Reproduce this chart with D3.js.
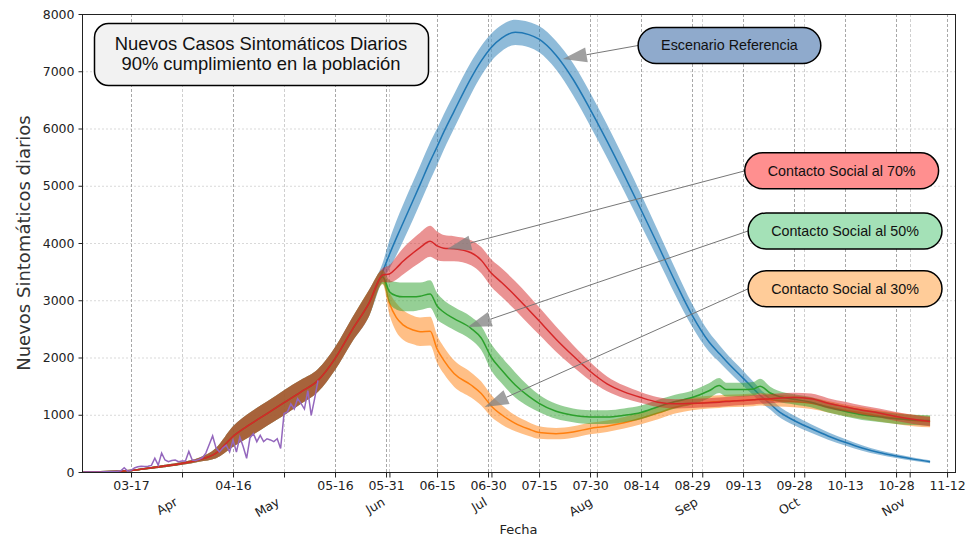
<!DOCTYPE html>
<html><head><meta charset="utf-8">
<script src="https://cdn.jsdelivr.net/npm/d3@7"></script>
<style>body{margin:0;background:#fff}svg{display:block}</style>
</head><body><svg id="c" width="965" height="536"></svg>
<script>
// ---------- data ----------
const earlyDates  = ["03-03","03-08","03-13","03-17","03-22","03-27","04-01","04-06","04-11","04-16","04-21","04-26","05-01","05-06","05-11","05-16","05-21","05-26"];
const earlyCases  = [0,3,12,25,65,105,150,215,330,620,830,1020,1210,1400,1600,1980,2480,2950];
const earlySpread = [0,2,5,10,15,20,25,35,90,180,210,210,220,210,200,200,210,230];

const lateDates = ["05-30","06-01","06-03","06-05","06-08","06-10","06-13","06-15","06-17","06-20",
  "06-25","06-28","07-01","07-04","07-08","07-12","07-15","07-20","07-25","07-30",
  "08-04","08-09","08-14","08-19","08-24","08-29","09-03","09-06","09-08","09-13",
  "09-16","09-18","09-21","09-23","09-28","10-03","10-08","10-13","10-18","10-23",
  "10-28","11-02","11-07"];

const refCases  = [3500,3800,4080,4350,4750,5020,5430,5680,5940,6300,6880,7180,7420,7580,7680,7640,7560,7280,6860,6340,5780,5190,4580,3960,3330,2740,2270,2070,1940,1640,1460,1340,1190,1080,900,760,630,520,420,340,280,225,180];
const refSpread = [150,250,300,320,330,330,330,320,310,300,280,260,240,230,220,220,230,250,280,290,290,280,270,250,230,200,170,150,140,130,120,110,100,95,85,75,65,55,48,40,35,30,25];

const c70Cases  = [3440,3460,3560,3680,3830,3920,4030,3950,3910,3900,3830,3700,3470,3310,3080,2830,2640,2320,2030,1760,1540,1400,1300,1220,1190,1200,1210,1220,1230,1250,1260,1270,1280,1290,1300,1280,1200,1140,1080,1030,970,920,880];
const c70Spread = [120,150,200,230,250,260,270,250,230,220,220,230,240,250,250,250,240,220,190,160,130,110,95,85,80,80,80,80,80,80,80,80,80,80,85,90,90,85,80,80,80,80,80];

const c50Cases  = [3410,3150,3080,3060,3060,3070,3110,2900,2790,2680,2510,2340,2000,1780,1520,1320,1200,1060,990,960,960,990,1040,1140,1230,1300,1420,1510,1440,1440,1450,1500,1380,1330,1270,1220,1130,1060,1000,965,930,910,900];
const c50Spread = [120,200,240,250,250,240,240,230,210,200,200,210,230,230,220,180,150,130,120,120,120,120,120,120,120,120,130,130,120,120,120,130,110,100,90,90,90,90,90,90,90,90,90];

const c30Cases  = [3400,2950,2700,2570,2480,2450,2460,2150,1950,1720,1520,1370,1150,1000,850,750,690,670,700,760,800,860,940,1030,1130,1190,1220,1230,1240,1250,1260,1270,1260,1250,1230,1200,1140,1080,1030,980,940,900,880];
const c30Spread = [120,200,250,260,250,250,250,240,235,230,220,210,190,170,140,120,110,100,100,100,100,100,105,110,110,110,110,110,110,110,110,110,110,105,100,100,100,100,100,100,100,100,100];

// observed daily cases starting 03-03
const obsStart = "03-03";
const obsCases = [0,0,0,0,1,2,3,5,8,10,12,
  20,75,15,30,70,90,100,95,100,115,240,120,330,210,180,200,210,180,
  190,190,360,210,200,220,250,330,480,630,420,350,420,470,350,560,350,610,440,240,600,670,530,640,530,580,560,530,580,410,
  1020,1050,1190,1100,1280,1200,1100,1420,990,1280,1600];

const dayTicks   = ["03-17","04-16","05-16","05-31","06-15","06-30","07-15","07-30","08-14","08-29","09-13","09-28","10-13","10-28","11-12"];
const monthTicks = ["04-01","05-01","06-01","07-01","08-01","09-01","10-01","11-01"];
const monthLabels= ["Apr","May","Jun","Jul","Aug","Sep","Oct","Nov"];
const yTicks = [0,1000,2000,3000,4000,5000,6000,7000,8000];

const titleLines = ["Nuevos Casos Sintomáticos Diarios","90% cumplimiento en la población"];
const annLabels  = ["Escenario Referencia","Contacto Social al 70%","Contacto Social al 50%","Contacto Social al 30%"];
const annFills   = ["#8faacc","#ff8f8f","#a4e1b7","#ffcc99"];
const annBoxDate = ["09-09","10-12","10-13","10-13"];
const annBoxVal  = [7450,5260,4210,3200];
const annTipDate = ["07-22","06-18","06-24","06-29"];
const annTipVal  = [7214,3895,2533,1135];

const seriesColors = {ref:"#1f77b4", c30:"#ff7f0e", c50:"#2ca02c", c70:"#d62728", obs:"#9467bd"};

// ---------- chart ----------
const P = s => d3.utcParse("%Y-%m-%d")("2020-" + s);
const svg = d3.select("#c");
const L = 82, R = 955, T = 14, B = 472;
const x = d3.scaleUtc().domain([Date.UTC(2020,2,2,14), Date.UTC(2020,10,14,8)]).range([L, R]);
const y = d3.scaleLinear().domain([0, 8000]).range([B, T]);
const FONT = "'DejaVu Sans', sans-serif";
const AFONT = "'Liberation Sans', Arial, sans-serif";

svg.append("rect").attr("width",965).attr("height",536).attr("fill","#fff");
svg.append("defs").append("clipPath").attr("id","clip")
  .append("rect").attr("x",L).attr("y",T).attr("width",R-L).attr("height",B-T);

// grid
const g = svg.append("g");
g.selectAll(".hg").data(yTicks).join("line")
  .attr("x1",L).attr("x2",R).attr("y1",d=>y(d)+0.5).attr("y2",d=>y(d)+0.5)
  .attr("stroke","#d9d9d9").attr("stroke-width",1).attr("stroke-dasharray","2,2");
g.selectAll(".mg").data(monthTicks).join("line")
  .attr("x1",d=>Math.round(x(P(d)))+0.5).attr("x2",d=>Math.round(x(P(d)))+0.5).attr("y1",T).attr("y2",B)
  .attr("stroke","#cfcfcf").attr("stroke-width",1).attr("stroke-dasharray","3,2");
g.selectAll(".dg").data(dayTicks).join("line")
  .attr("x1",d=>Math.round(x(P(d)))+0.5).attr("x2",d=>Math.round(x(P(d)))+0.5).attr("y1",T).attr("y2",B)
  .attr("stroke","#a8a8a8").attr("stroke-width",1).attr("stroke-dasharray","3,2");

// series
function build(cases, spread){
  const dates = earlyDates.concat(lateDates);
  const vals = earlyCases.concat(cases);
  const sp = earlySpread.concat(spread);
  return dates.map((d,i)=>({date:P(d), v:vals[i], s:sp[i]}));
}
const series = [
  {key:"ref", data:build(refCases, refSpread)},
  {key:"c30", data:build(c30Cases, c30Spread)},
  {key:"c50", data:build(c50Cases, c50Spread)},
  {key:"c70", data:build(c70Cases, c70Spread)}
];
const area = d3.area().x(d=>x(d.date)).y0(d=>y(Math.max(0,d.v-d.s))).y1(d=>y(d.v+d.s)).curve(d3.curveMonotoneX);
const line = d3.line().x(d=>x(d.date)).y(d=>y(d.v)).curve(d3.curveMonotoneX);
const plot = svg.append("g").attr("clip-path","url(#clip)");
series.forEach(s=>{
  plot.append("path").attr("d",area(s.data)).attr("fill",seriesColors[s.key]).attr("fill-opacity",0.5);
  plot.append("path").attr("d",line(s.data)).attr("fill","none").attr("stroke",seriesColors[s.key]).attr("stroke-width",1.5);
});
const obs = obsCases.map((v,i)=>({date:d3.utcDay.offset(P(obsStart), i), v}));
plot.append("path").attr("d",d3.line().x(d=>x(d.date)).y(d=>y(d.v))(obs))
  .attr("fill","none").attr("stroke",seriesColors.obs).attr("stroke-width",1.5);

// spines
svg.append("rect").attr("x",L+0.5).attr("y",T+0.5).attr("width",R-L).attr("height",B-T)
  .attr("fill","none").attr("stroke","#222").attr("stroke-width",1);

// axes
const yAx = svg.append("g").attr("transform",`translate(${L+0.5},0)`)
  .call(d3.axisLeft(y).tickValues(yTicks).tickFormat(d3.format("d")).tickSize(4).tickPadding(4));
yAx.select(".domain").remove();
yAx.selectAll("text").attr("font-family",FONT).attr("font-size",12.5).attr("fill","#222");
yAx.selectAll("line").attr("stroke","#222");

const xAx = svg.append("g").attr("transform",`translate(0,${B+0.5})`)
  .call(d3.axisBottom(x).tickValues(dayTicks.map(P)).tickFormat(d3.utcFormat("%m-%d")).tickSize(5).tickPadding(3.5));
xAx.select(".domain").remove();
xAx.selectAll("text").attr("font-family",FONT).attr("font-size",12.5).attr("fill","#222");
xAx.selectAll("line").attr("stroke","#222");

const mAx = svg.append("g").attr("transform",`translate(0,${B+0.5})`)
  .call(d3.axisBottom(x).tickValues(monthTicks.map(P)).tickFormat((d,i)=>monthLabels[i]).tickSize(5));
mAx.select(".domain").remove();
mAx.selectAll("line").attr("stroke","#222");
mAx.selectAll("text").attr("font-family",FONT).attr("font-size",12.5).attr("fill","#222")
  .attr("x",0).attr("y",0).attr("dy",0).attr("text-anchor","end")
  .attr("transform","translate(-4,32) rotate(-30)");

svg.append("text").attr("x",(L+R)/2).attr("y",534).attr("text-anchor","middle")
  .attr("font-family",FONT).attr("font-size",13).attr("fill","#222").text("Fecha");
svg.append("text").attr("transform",`translate(30,${(T+B)/2}) rotate(-90)`).attr("text-anchor","middle")
  .attr("font-family",FONT).attr("font-size",18).attr("fill","#333").text("Nuevos Sintomáticos diarios");

// title box
svg.append("rect").attr("x",94.5).attr("y",23.5).attr("width",334).attr("height",62).attr("rx",14)
  .attr("fill","#f2f2f2").attr("stroke","#000").attr("stroke-width",1.5);
svg.selectAll(".tl").data(titleLines).join("text")
  .attr("x",261).attr("y",(d,i)=>50+i*20).attr("text-anchor","middle")
  .attr("font-family",AFONT).attr("font-size",18.4).attr("fill","#111").text(d=>d);

// annotations
const ann = svg.append("g");
annLabels.forEach((lab,i)=>{
  const cx = x(P(annBoxDate[i])), cy = y(annBoxVal[i]);
  const tx = x(P(annTipDate[i])), ty = y(annTipVal[i]);
  const grp = ann.append("g");
  const txt = grp.append("text").attr("x",cx).attr("y",cy+5).attr("text-anchor","middle")
    .attr("font-family",AFONT).attr("font-size",14.3).attr("fill","#111").text(lab);
  const w = txt.node().getComputedTextLength() + 46, h = 36;
  const sx = cx - w/2, sy = cy;
  const ang = Math.atan2(ty-sy, tx-sx);
  const len = 24, hw = 7.5;
  const bx = tx - len*Math.cos(ang), by = ty - len*Math.sin(ang);
  grp.insert("line","text").attr("x1",sx).attr("y1",sy).attr("x2",bx).attr("y2",by)
    .attr("stroke","#777").attr("stroke-width",1);
  grp.insert("path","text").attr("d",`M${tx},${ty}L${bx - hw*Math.sin(ang)},${by + hw*Math.cos(ang)}L${bx + hw*Math.sin(ang)},${by - hw*Math.cos(ang)}Z`)
    .attr("fill","#808080").attr("fill-opacity",0.75);
  grp.insert("rect","text").attr("x",sx).attr("y",cy-h/2).attr("width",w).attr("height",h).attr("rx",h/2)
    .attr("fill",annFills[i]).attr("stroke","#000").attr("stroke-width",1.5);
});
</script>
</body></html>
